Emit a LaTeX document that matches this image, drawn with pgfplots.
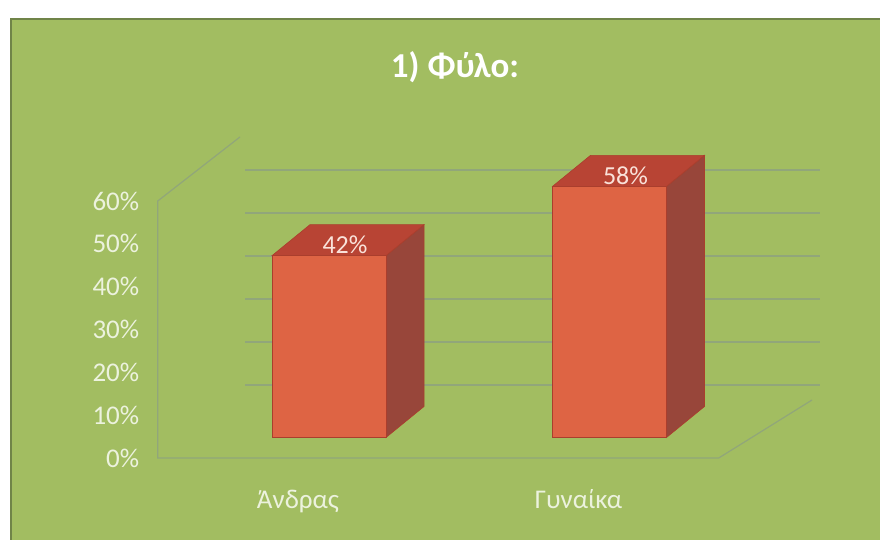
\documentclass[border=0pt]{standalone}
\usepackage{pgfplots}
\pgfplotsset{compat=1.18}
\usepackage{fontspec}
\setmainfont{Carlito}
\definecolor{bg}{RGB}{162,189,97}
\definecolor{bgdark}{RGB}{112,132,72}
\definecolor{gridc}{RGB}{145,166,122}
\definecolor{lbl}{RGB}{236,242,222}
\definecolor{vlbl}{RGB}{250,226,218}
\definecolor{frontc}{RGB}{222,100,68}
\definecolor{topc}{RGB}{184,68,52}
\definecolor{sidec}{RGB}{152,70,58}
\definecolor{edgec}{RGB}{170,62,45}
\begin{document}
\begin{tikzpicture}[x=1pt,y=1pt]
\path[use as bounding box] (0,0) rectangle (880,540);
\fill[white] (0,0) rectangle (880,540);
\fill[bg] (10,0) rectangle (880,522);
\draw[bgdark, line width=2.5pt] (11,0) -- (11,521) -- (880,521);
\node[font=\fontsize{35}{35}\selectfont\bfseries, text=white] at (455pt,473pt) {1) Φύλο:};
% back wall grid
\begin{axis}[at={(245pt,112pt)}, anchor=south west, scale only axis,
  width=575pt, height=258pt, xmin=0, xmax=1, ymin=0, ymax=60,
  xtick=\empty, ytick={10,20,30,40,50,60}, yticklabels={},
  ymajorgrids, grid style={gridc, line width=1.2pt},
  axis line style={draw=none}, major tick length=0pt]
\addplot[draw=none] coordinates {(0,0)};
\end{axis}
% front frame with ticks
\begin{axis}[at={(157.75pt,82pt)}, anchor=south west, scale only axis,
  width=561pt, height=257pt, xmin=-0.5, xmax=1.5, ymin=0, ymax=60,
  clip=false, axis line style={draw=none}, major tick length=0pt,
  xtick={0,1}, xticklabels={Άνδρας,Γυναίκα},
  ytick={0,10,20,30,40,50,60},
  yticklabels={0\%,10\%,20\%,30\%,40\%,50\%,60\%},
  ticklabel style={font=\fontsize{27}{27}\selectfont, text=lbl},
  yticklabel style={anchor=east, xshift=-15pt},
  xticklabel style={anchor=base, yshift=-51pt}]
\addplot[gridc, line width=1.2pt] coordinates {(-0.2068,74.95) (-0.5,60) (-0.5,0) (1.5,0) (1.8325,13.54)};
\end{axis}
% bars
\begin{axis}[at={(188.75pt,102.5pt)}, anchor=south west, scale only axis,
  width=561pt, height=259.8pt, xmin=-0.5, xmax=1.5, ymin=0, ymax=60,
  clip=false, hide axis]
% side faces
\addplot[fill=sidec, draw=edgec, line width=0.6pt] coordinates {(0.2032,0) (0.3387,7.16) (0.3387,49.16) (0.2032,42)} -- cycle;
\addplot[fill=sidec, draw=edgec, line width=0.6pt] coordinates {(1.2032,0) (1.3387,7.16) (1.3387,65.16) (1.2032,58)} -- cycle;
% top faces
\addplot[fill=topc, draw=edgec, line width=0.6pt] coordinates {(-0.2032,42) (0.2032,42) (0.3387,49.16) (-0.0677,49.16)} -- cycle;
\addplot[fill=topc, draw=edgec, line width=0.6pt] coordinates {(0.7968,58) (1.2032,58) (1.3387,65.16) (0.9323,65.16)} -- cycle;
% front faces
\addplot[ybar, bar width=114pt, bar shift=0pt, fill=frontc, draw=edgec, line width=0.6pt,
  nodes near coords={\pgfmathprintnumber[assume math mode=true]{\pgfplotspointmeta}\%},
  every node near coord/.append style={anchor=center, xshift=16pt, yshift=11pt,
    font=\fontsize{26}{26}\selectfont, text=vlbl}]
  coordinates {(0,42) (1,58)};
\end{axis}
\end{tikzpicture}
\end{document}
